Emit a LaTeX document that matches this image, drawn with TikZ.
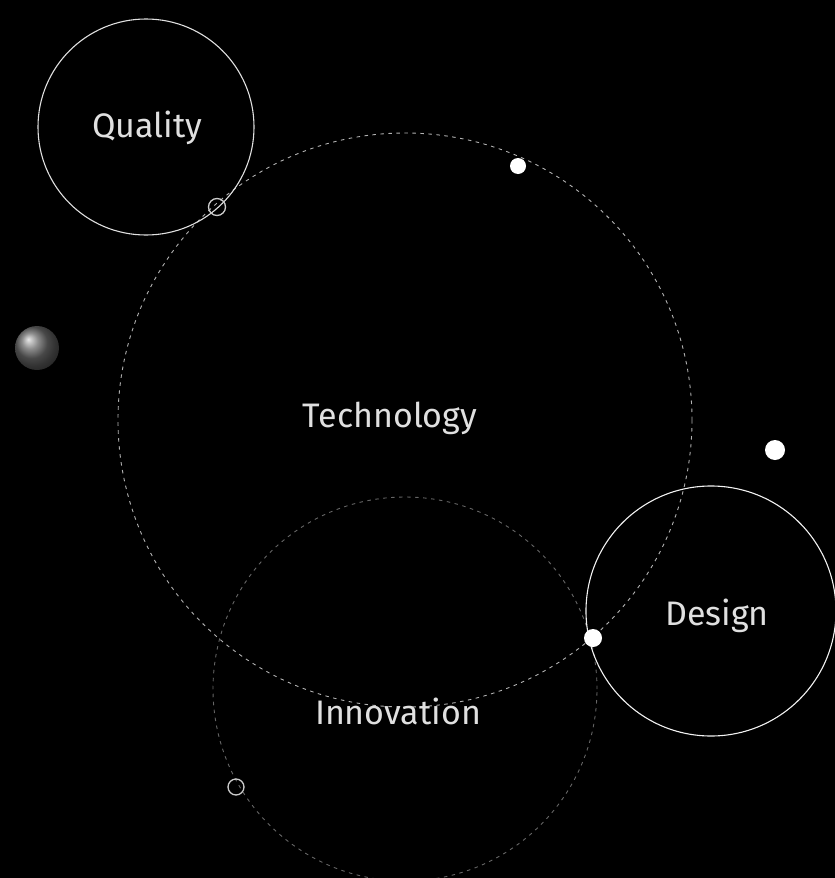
\documentclass[tikz,border=0pt]{standalone}
\usepackage{fontspec}
\setmainfont{Fira Sans}
\usetikzlibrary{positioning}

\begin{document}
\begin{tikzpicture}[x=1pt, y=-1pt, every node/.style={font=\fontsize{34}{38}\selectfont, text=black!12}]
	\tikzset{
		ring/.style={circle, draw=black!12, line width=1.1pt, inner sep=0pt},
		dashring/.style={circle, draw=black!30, line width=0.9pt, dash pattern=on 3.5pt off 4.5pt, inner sep=0pt},
		dimring/.style={dashring, draw=black!60},
		dot/.style={circle, fill=white, inner sep=0pt, minimum size=#1},
		hollow/.style={circle, draw=black!20, line width=1.3pt, inner sep=0pt, minimum size=#1}
	}
	\fill[black] (0,0) rectangle (835,878);
	\useasboundingbox (0,0) rectangle (835,878);
	% big rings
	\node[dimring, minimum size=384] (innovation) at (405,689) {};
	\node[dashring, minimum size=574] (technology) at (405,420) {};
	\node[ring, minimum size=216] (quality) at (146,127) {};
	\node[ring, draw=black!5, minimum size=250] (design) at (711,611) {};
	% labels
	\node at (147,128) {Quality};
	\node at (390,418) {Technology};
	\node at (398,711) {Innovation};
	\node at (717,616) {Design};
	% small markers
	\node[dot=16] (d1) at (518,166) {};
	\node[dot=20] (d2) at (775,450) {};
	\node[dot=18] (d3) at (593,638) {};
	\node[hollow=17] (h1) at (217,207) {};
	\node[hollow=16] (h2) at (236,787) {};
	\shade[ball color=black!60] (37,348) circle (22);
\end{tikzpicture}
\end{document}
